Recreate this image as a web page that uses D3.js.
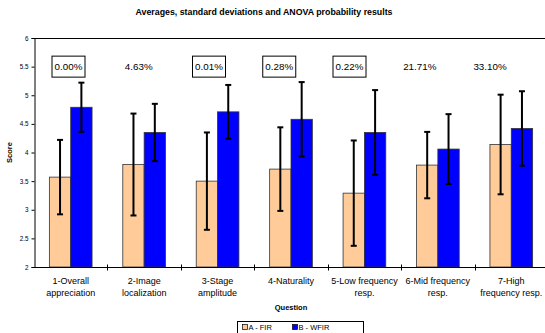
<!DOCTYPE html>
<html>
<head>
<meta charset="utf-8">
<script src="https://cdn.jsdelivr.net/npm/d3@7/dist/d3.min.js"></script>
<style>
  html, body { margin: 0; padding: 0; background: #fff; }
  svg { display: block; font-family: "Liberation Sans", Arial, sans-serif; }
</style>
</head>
<body>
<svg id="chart" width="545" height="333"></svg>
<script>
const categories = ["1-Overall appreciation", "2-Image localization", "3-Stage amplitude", "4-Naturality", "5-Low frequency resp.", "6-Mid frequency resp.", "7-High frequency resp."];
const categoryLines = [["1-Overall", "appreciation"], ["2-Image", "localization"], ["3-Stage", "amplitude"], ["4-Naturality"], ["5-Low frequency", "resp."], ["6-Mid frequency", "resp."], ["7-High", "frequency resp."]];
const seriesNames = ["A - FIR", "B - WFIR"];
const meanA = [3.57, 3.79, 3.50, 3.71, 3.29, 3.78, 4.14];
const sdA   = [0.65, 0.89, 0.85, 0.73, 0.92, 0.58, 0.87];
const meanB = [4.79, 4.35, 4.71, 4.58, 4.35, 4.06, 4.42];
const sdB   = [0.43, 0.50, 0.47, 0.65, 0.74, 0.61, 0.65];
const anovaP = ["0.00%", "4.63%", "0.01%", "0.28%", "0.22%", "21.71%", "33.10%"];
const significant = [true, false, true, true, true, false, false];
const yTicks = [2, 2.5, 3, 3.5, 4, 4.5, 5, 5.5, 6];
const colors = ["#FFCC99", "#0000FF"];

(function () {
const svg = d3.select("#chart");
const mLeft = 34, mRight = 548, mTop = 38, mBottom = 267;

const y = d3.scaleLinear().domain([2, 6]).range([mBottom, mTop]);
const x0 = d3.scaleBand().domain(categories).range([mLeft, mRight]).padding(0);
const x1 = d3.scaleBand().domain(seriesNames).range([0, x0.bandwidth()]).paddingInner(0).paddingOuter(0.72);

// Title
svg.append("text").attr("x", 264).attr("y", 15).attr("text-anchor", "middle")
  .attr("font-size", 8.8).attr("font-weight", "bold").text("Averages, standard deviations and ANOVA probability results");

// top border
svg.append("line").attr("x1", mLeft).attr("x2", 545).attr("y1", mTop + 0.5).attr("y2", mTop + 0.5)
  .attr("stroke", "#000").attr("stroke-width", 1);

// Bars
const data = categories.map((c, i) => ({c, i, vals: [
  {s: seriesNames[0], m: meanA[i], sd: sdA[i], col: colors[0]},
  {s: seriesNames[1], m: meanB[i], sd: sdB[i], col: colors[1]}
]}));

const g = svg.append("g");
const groups = g.selectAll("g.cat").data(data).join("g").attr("class", "cat")
  .attr("transform", d => `translate(${x0(d.c)},0)`);

groups.selectAll("rect").data(d => d.vals).join("rect")
  .attr("x", d => x1(d.s)).attr("width", x1.bandwidth())
  .attr("y", d => y(d.m)).attr("height", d => y(2) - y(d.m))
  .attr("fill", d => d.col).attr("stroke", "#333").attr("stroke-width", 0.8);

// Error bars
const eb = groups.selectAll("g.eb").data(d => d.vals).join("g").attr("class", "eb");
const cx = d => x1(d.s) + x1.bandwidth() / 2;
eb.append("line")
  .attr("x1", cx).attr("x2", cx)
  .attr("y1", d => y(d.m + d.sd)).attr("y2", d => y(d.m - d.sd))
  .attr("stroke", "#000").attr("stroke-width", 2);
eb.append("line")
  .attr("x1", d => cx(d) - 3).attr("x2", d => cx(d) + 3)
  .attr("y1", d => y(d.m + d.sd)).attr("y2", d => y(d.m + d.sd))
  .attr("stroke", "#000").attr("stroke-width", 2);
eb.append("line")
  .attr("x1", d => cx(d) - 3).attr("x2", d => cx(d) + 3)
  .attr("y1", d => y(d.m - d.sd)).attr("y2", d => y(d.m - d.sd))
  .attr("stroke", "#000").attr("stroke-width", 2);

// Y axis
const yAxis = d3.axisLeft(y).tickValues(yTicks).tickSize(3).tickPadding(3).tickFormat(d3.format("~g"));
const ya = svg.append("g").attr("transform", `translate(${mLeft + 0.5},0)`).call(yAxis);
ya.selectAll("text").attr("font-size", 6.3).attr("font-family", "Liberation Sans, Arial, sans-serif").attr("fill", "#000");
ya.selectAll("line, path").attr("stroke", "#000");

// X axis
const xAxis = d3.axisBottom(x0).tickSize(0).tickFormat("");
const xa = svg.append("g").attr("transform", `translate(0,${mBottom + 0.5})`).call(xAxis);
xa.select("path").attr("stroke", "#000").attr("d", `M${mLeft},0H545`);
xa.selectAll("line.sep").data(categories.slice(1)).join("line").attr("class", "sep")
  .attr("x1", d => Math.round(x0(d)) + 0.5).attr("x2", d => Math.round(x0(d)) + 0.5)
  .attr("y1", -3).attr("y2", 3).attr("stroke", "#000");

// Category labels
const cl = svg.selectAll("text.cat").data(categories).join("text").attr("class", "cat")
  .attr("text-anchor", "middle").attr("font-size", 9).attr("fill", "#000")
  .attr("transform", d => `translate(${x0(d) + x0.bandwidth() / 2},${mBottom + 17})`);
cl.selectAll("tspan").data((d, i) => categoryLines[i]).join("tspan")
  .attr("x", 0).attr("dy", (d, j) => j === 0 ? 0 : 11.5).text(d => d);

// Axis titles
svg.append("text").attr("transform", `translate(12,${(mTop + mBottom) / 2}) rotate(-90)`)
  .attr("text-anchor", "middle").attr("font-size", 7.5).attr("font-weight", "bold").text("Score");
svg.append("text").attr("x", 291).attr("y", 310).attr("text-anchor", "middle")
  .attr("font-size", 7.5).attr("font-weight", "bold").text("Question");

// ANOVA labels
const pX = d3.scaleLinear().domain([0, categories.length - 1]).range([68.5, 490]);
const pl = svg.selectAll("g.p").data(anovaP).join("g").attr("class", "p")
  .attr("transform", (d, i) => `translate(${pX(i)},${y(5.5)})`);
pl.filter((d, i) => significant[i]).append("rect")
  .attr("x", -16.5).attr("y", -10.5).attr("width", 33).attr("height", 21)
  .attr("fill", "#fff").attr("stroke", "#000").attr("stroke-width", 1);
pl.append("text").attr("text-anchor", "middle").attr("y", 3.5).attr("font-size", 9.8).text(d => d);

// Legend
const lg = svg.append("g").attr("transform", "translate(237.5,321.5)");
lg.append("rect").attr("width", 126).attr("height", 16).attr("fill", "#fff").attr("stroke", "#000");
const li = lg.selectAll("g.li").data(seriesNames).join("g").attr("class", "li")
  .attr("transform", (d, i) => `translate(${5 + i * 50},3)`);
li.append("rect").attr("width", 5).attr("height", 5).attr("fill", (d, i) => colors[i]).attr("stroke", "#000").attr("stroke-width", 0.7);
li.append("text").attr("x", 6).attr("y", 5.5).attr("font-size", 7.5).text(d => d);
})();
</script>
</body>
</html>
